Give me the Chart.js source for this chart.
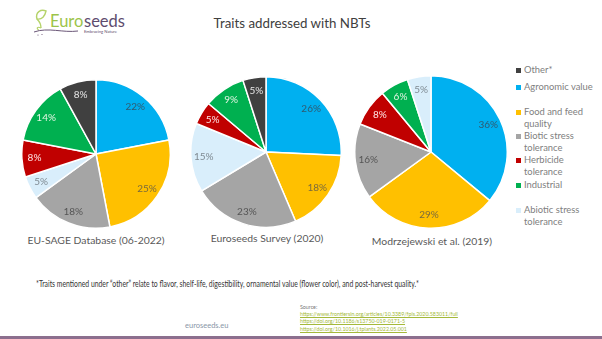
<!DOCTYPE html>
<html>
<head>
<meta charset="utf-8">
<script src="https://cdn.jsdelivr.net/npm/chart.js@4.4.1/dist/chart.umd.min.js"></script>
<style>
  body { margin: 0; background: #fff; font-family: Lato, 'Open Sans', sans-serif; }
  #page { position: relative; width: 602px; height: 339px; overflow: hidden; background: #fff; }
  .abs { position: absolute; }
  canvas.pie { position: absolute; }
  #title { left: 0; width: 584px; top: 15px; text-align: center; font-size: 13.3px; color: #404040; }
  .caption { font-size: 10.4px; color: #595959; text-align: center; white-space: nowrap; }
  #legend { left: 516px; top: 0; width: 86px; }
  .lg { position: absolute; left: 0; width: 86px; font-size: 9.4px; line-height: 12px; color: #808080; }
  .lg i { position: absolute; left: 0; top: 4px; width: 5px; height: 5px; }
  .lg span { display: block; margin-left: 8px; width: 72px; }
  #note { left: 36px; top: 279px; font-size: 8.6px; color: #333; white-space: nowrap;
          transform: scaleX(0.795); transform-origin: 0 0; }
  #src { left: 300px; top: 304px; font-size: 5.3px; line-height: 7.2px; color: #777; }
  #src a { color: #a4b93a; text-decoration: underline; display: block; }
  #site { left: 185px; top: 321px; font-size: 7.5px; color: #8a96a8; }
  #bar { left: 0; top: 336px; width: 602px; height: 3px; background: #8c6f8e; }
  #logo { left: 33px; top: 7px; }
</style>
</head>
<body>
<div id="page">
  <div id="logo" class="abs">
    <svg width="100" height="32" viewBox="0 0 100 32">
      <path d="M4 12 C2 5 8 2 13 4 C12 9 9 13 4 12 Z" fill="none" stroke="#b5d36a" stroke-width="1.4"/>
      <path d="M4 12 C6 14 8 16 8 21" fill="none" stroke="#b5d36a" stroke-width="1.4"/>
      <path d="M8 21 C4 19 3 22 6 23" fill="none" stroke="#b5d36a" stroke-width="1.2"/>
      <path d="M1 25 C15 20 30 26 45 24" fill="none" stroke="#6b5778" stroke-width="1"/>
      <circle cx="5" cy="28" r="0.6" fill="#6b5778"/>
      <circle cx="9" cy="27.5" r="0.6" fill="#6b5778"/>
      <text x="17" y="20" font-family="Lato, sans-serif" font-size="16.5" fill="#9cc44a">Euro</text>
      <text x="51" y="20" font-family="Lato, sans-serif" font-size="16.5" fill="#5e4c6e">seeds</text>
      <text x="51" y="26" font-family="Lato, sans-serif" font-size="4.2" fill="#5e4c6e">Embracing Nature</text>
    </svg>
  </div>
  <div id="title" class="abs">Traits addressed with NBTs</div>

  <canvas id="pie1" class="pie" width="150" height="150" style="left:21px;top:79px;width:150px;height:150px"></canvas>
  <canvas id="pie2" class="pie" width="152" height="152" style="left:190px;top:76px;width:152px;height:152px"></canvas>
  <canvas id="pie3" class="pie" width="154" height="154" style="left:354px;top:75px;width:154px;height:154px"></canvas>

  <div id="cap1" class="abs caption"></div>
  <div id="cap2" class="abs caption"></div>
  <div id="cap3" class="abs caption"></div>

  <div id="legend" class="abs"></div>

  <div id="note" class="abs">*Traits mentioned under “other” relate to flavor, shelf-life, digestibility, ornamental value (flower color), and post-harvest quality.*</div>
  <div id="site" class="abs">euroseeds.eu</div>
  <div id="src" class="abs">Source:
    <a>https://www.frontiersin.org/articles/10.3389/fpls.2020.583011/full</a>
    <a>https://doi.org/10.1186/s13750-019-0171-5</a>
    <a>https://doi.org/10.1016/j.tplants.2022.05.001</a>
  </div>
  <div id="bar" class="abs"></div>
</div>

<script>
// categories (legend order)
const categories = ['Other*', 'Agronomic value', 'Food and feed quality', 'Biotic stress tolerance',
  'Herbicide tolerance', 'Industrial', 'Abiotic stress tolerance'];

// EU-SAGE Database (06-2022)
const sageLabels = ['Agronomic value', 'Food and feed quality', 'Biotic stress tolerance',
  'Abiotic stress tolerance', 'Herbicide tolerance', 'Industrial', 'Other*'];
const sageValues = [22, 25, 18, 5, 8, 14, 8];

// Euroseeds Survey (2020)
const surveyLabels = ['Agronomic value', 'Food and feed quality', 'Biotic stress tolerance',
  'Abiotic stress tolerance', 'Herbicide tolerance', 'Industrial', 'Other*'];
const surveyValues = [26, 18, 23, 15, 5, 9, 5];

// Modrzejewski et al. (2019)
const modLabels = ['Agronomic value', 'Food and feed quality', 'Biotic stress tolerance',
  'Herbicide tolerance', 'Industrial', 'Abiotic stress tolerance'];
const modValues = [36, 29, 16, 8, 6, 5];

const pieTitles = ['EU-SAGE Database (06-2022)', 'Euroseeds Survey (2020)', 'Modrzejewski et al. (2019)'];

// styling
const fillColors = {
  'Other*': '#404040',
  'Agronomic value': '#00b0f0',
  'Food and feed quality': '#ffc000',
  'Biotic stress tolerance': '#a5a5a5',
  'Herbicide tolerance': '#c00000',
  'Industrial': '#00b050',
  'Abiotic stress tolerance': '#d9eefb'
};
const textColors = {
  'Other*': '#e6e6e6',
  'Agronomic value': '#2f5a70',
  'Food and feed quality': '#7a6a3c',
  'Biotic stress tolerance': '#555555',
  'Herbicide tolerance': '#ffe6e6',
  'Industrial': '#e3f5e3',
  'Abiotic stress tolerance': '#7f8a92'
};

// percent labels inside the slices
const sliceLabels = {
  id: 'sliceLabels',
  afterDatasetsDraw(chart) {
    const ctx = chart.ctx;
    const meta = chart.getDatasetMeta(0);
    const labels = chart.data.labels;
    const values = chart.data.datasets[0].data;
    ctx.save();
    ctx.font = '10px Lato, sans-serif';
    ctx.textAlign = 'center';
    ctx.textBaseline = 'middle';
    meta.data.forEach((arc, i) => {
      const p = arc.getProps(['x', 'y', 'startAngle', 'endAngle', 'outerRadius']);
      const a = (p.startAngle + p.endAngle) / 2;
      const r = p.outerRadius * 0.83;
      ctx.fillStyle = textColors[labels[i]];
      ctx.fillText(values[i] + '%', p.x + Math.cos(a) * r, p.y + Math.sin(a) * r);
    });
    ctx.restore();
  }
};

function makePie(id, labels, values) {
  return new Chart(document.getElementById(id).getContext('2d'), {
    type: 'pie',
    data: {
      labels: labels,
      datasets: [{
        data: values,
        backgroundColor: labels.map(l => fillColors[l]),
        borderColor: '#ffffff',
        borderWidth: 1.5,
        hoverOffset: 0
      }]
    },
    options: {
      animation: false,
      responsive: false,
      layout: { padding: 0 },
      plugins: {
        legend: { display: false },
        tooltip: { enabled: false }
      }
    },
    plugins: [sliceLabels]
  });
}

makePie('pie1', sageLabels, sageValues);
makePie('pie2', surveyLabels, surveyValues);
makePie('pie3', modLabels, modValues);

// captions under the pies
const capPos = [[96, 234], [267, 232], [432, 235]];
pieTitles.forEach((t, i) => {
  const el = document.getElementById('cap' + (i + 1));
  el.textContent = t;
  el.style.left = (capPos[i][0] - 90) + 'px';
  el.style.width = '180px';
  el.style.top = capPos[i][1] + 'px';
});

// legend
const legendTops = [64, 81, 106, 130, 154, 179, 204];
const legend = document.getElementById('legend');
categories.forEach((c, i) => {
  const d = document.createElement('div');
  d.className = 'lg';
  d.style.top = legendTops[i] + 'px';
  d.innerHTML = '<i style="background:' + fillColors[c] + '"></i><span>' + c + '</span>';
  legend.appendChild(d);
});
</script>
</body>
</html>
